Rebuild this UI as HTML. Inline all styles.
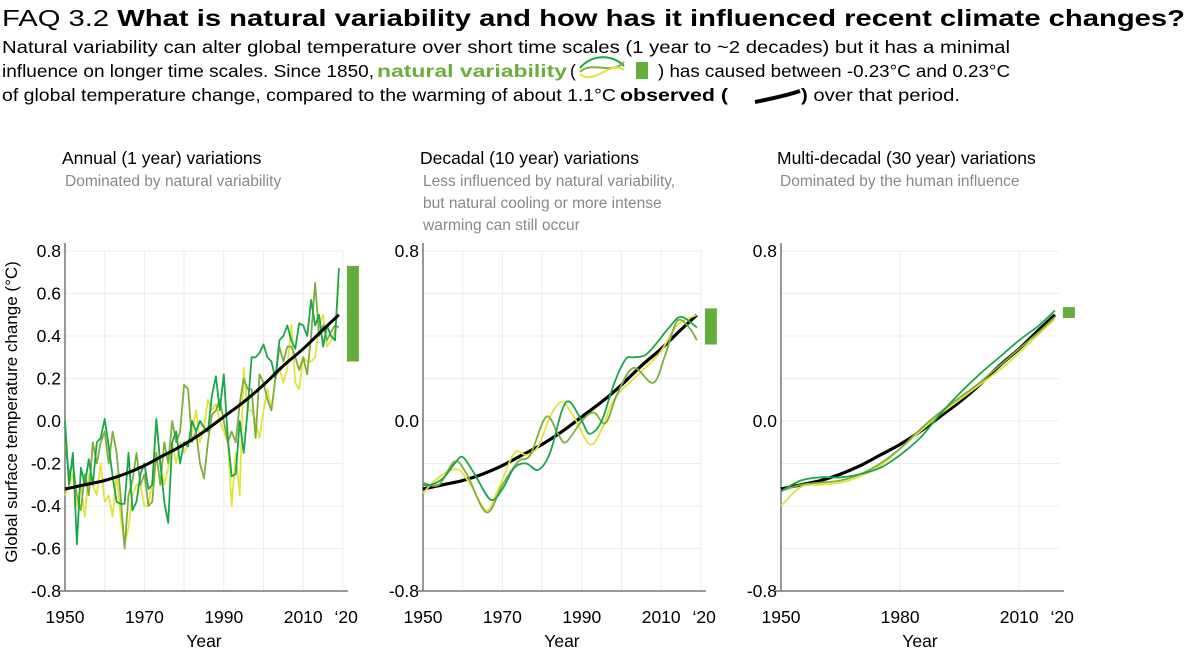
<!DOCTYPE html>
<html><head><meta charset="utf-8"><style>
html,body{margin:0;padding:0;background:#fff;}
svg{display:block;font-family:"Liberation Sans",Arial,sans-serif;}
</style></head><body>
<svg id="c" width="1200" height="655" viewBox="0 0 1200 655">
<g>
<text x="2" y="26" font-size="23" textLength="1183" lengthAdjust="spacingAndGlyphs">FAQ 3.2 <tspan font-weight="bold">What is natural variability and how has it influenced recent climate changes?</tspan></text>
<text x="2" y="53" font-size="17.5" textLength="1008" lengthAdjust="spacingAndGlyphs">Natural variability can alter global temperature over short time scales (1 year to ~2 decades) but it has a minimal</text>
<text x="2" y="77" font-size="17.5" textLength="372" lengthAdjust="spacingAndGlyphs">influence on longer time scales. Since 1850,</text>
<text x="377" y="77" font-size="17.5" font-weight="bold" fill="#6aaf3d" textLength="190" lengthAdjust="spacingAndGlyphs">natural variability</text>
<text x="570" y="77" font-size="17.5">(</text>
<g fill="none" stroke-width="2">
<path d="M580 68 C592 54,612 54,624 66" stroke="#1aa64a"/>
<path d="M580 72 C592 60,612 76,624 62" stroke="#7fae3a"/>
<path d="M580 74 C594 86,610 60,624 70" stroke="#e2e43c"/>
</g>
<rect x="636" y="62" width="12" height="17" fill="#64ad3c"/>
<text x="658" y="77" font-size="17.5" textLength="352" lengthAdjust="spacingAndGlyphs">) has caused between -0.23°C and 0.23°C</text>
<text x="2" y="101" font-size="17.5" textLength="614" lengthAdjust="spacingAndGlyphs">of global temperature change, compared to the warming of about 1.1°C</text>
<text x="620" y="101" font-size="17.5" font-weight="bold" textLength="108" lengthAdjust="spacingAndGlyphs">observed (</text>
<path d="M755 102 C770 99,785 96,800 91" stroke="#000" stroke-width="4" fill="none"/>
<text x="801" y="101" font-size="17.5" textLength="159" lengthAdjust="spacingAndGlyphs"><tspan font-weight="bold">)</tspan> over that period.</text>
</g>
<g id="charts"></g>
</svg>
<script>
// ---------- data ----------
const years = [];
for (let y = 1950; y <= 2019; y++) years.push(y);
const annualGreen = [0.0,-0.3,-0.15,-0.58,-0.22,-0.3,-0.18,-0.3,-0.1,-0.08,
0.01,-0.12,-0.26,-0.38,-0.39,-0.39,-0.15,-0.42,-0.38,-0.25,
-0.2,-0.32,-0.3,0.01,-0.2,-0.38,-0.48,-0.1,-0.05,-0.2,
-0.1,-0.12,0.0,-0.05,0.0,-0.03,-0.05,0.12,0.21,0.05,
0.22,-0.08,-0.26,-0.25,0.0,-0.15,0.05,0.3,0.3,0.32,
0.36,0.3,0.28,0.2,0.38,0.4,0.45,0.38,0.34,0.46,
0.45,0.4,0.57,0.45,0.5,0.35,0.45,0.4,0.38,0.72];
const annualOlive = [-0.1,-0.25,-0.2,-0.35,-0.42,-0.25,-0.35,-0.1,-0.2,-0.1,
-0.05,-0.2,-0.05,-0.15,-0.35,-0.6,-0.35,-0.28,-0.15,-0.3,
-0.25,-0.4,-0.38,-0.15,-0.3,-0.1,-0.2,0.0,-0.1,-0.05,
0.17,0.15,-0.1,-0.05,-0.2,-0.27,-0.1,0.03,0.05,0.1,
0.0,-0.1,-0.05,-0.1,0.08,0.2,0.15,0.15,-0.08,0.22,
0.18,0.1,0.05,0.2,0.35,0.28,0.35,0.35,0.3,0.24,
0.3,0.22,0.4,0.65,0.4,0.45,0.38,0.42,0.45,0.44];
const annualYellow = [-0.35,-0.3,-0.25,-0.4,-0.3,-0.45,-0.25,-0.3,-0.35,-0.2,
-0.38,-0.35,-0.45,-0.25,-0.45,-0.58,-0.5,-0.35,-0.3,-0.3,
-0.4,-0.4,-0.28,0.0,-0.2,-0.3,-0.22,-0.1,-0.2,-0.1,
-0.15,-0.1,-0.05,0.05,-0.1,-0.03,0.1,0.05,0.08,0.0,
-0.05,-0.1,-0.4,-0.15,-0.35,0.25,0.05,0.05,0.0,-0.08,
0.05,0.15,0.05,0.2,0.25,0.18,0.25,0.45,0.18,0.15,
0.3,0.28,0.28,0.3,0.45,0.5,0.35,0.38,0.42,0.65];
const obsYears = [1950,1955,1960,1965,1970,1975,1980,1985,1990,1995,2000,2005,2010,2015,2019];
const observed = [-0.32,-0.30,-0.28,-0.25,-0.21,-0.16,-0.11,-0.05,0.02,0.09,0.17,0.26,0.34,0.43,0.50];
const decGreenYears = [1950,1952,1955,1958,1960,1963,1967,1970,1973,1976,1979,1982,1985,1987,1990,1992,1995,1998,2001,2003,2006,2009,2012,2015,2019];
const decGreen = [-0.3,-0.3,-0.27,-0.2,-0.17,-0.25,-0.37,-0.32,-0.22,-0.2,-0.23,-0.15,0.05,0.09,0.0,-0.06,0.0,0.17,0.29,0.3,0.31,0.37,0.44,0.49,0.44];
const decOliveYears = [1950,1954,1958,1961,1966,1970,1974,1977,1981,1984,1986,1990,1993,1996,1999,2003,2008,2011,2014,2017,2019];
const decOlive = [-0.29,-0.3,-0.19,-0.25,-0.43,-0.3,-0.19,-0.16,0.02,-0.06,-0.1,0.0,0.04,-0.01,0.13,0.25,0.18,0.31,0.47,0.44,0.38];
const decYellowYears = [1950,1953,1956,1959,1962,1966,1969,1973,1976,1979,1982,1985,1988,1992,1995,1998,2002,2006,2010,2014,2019];
const decYellow = [-0.34,-0.28,-0.24,-0.23,-0.3,-0.42,-0.32,-0.15,-0.16,-0.12,0.02,0.09,0.02,-0.11,-0.04,0.1,0.18,0.25,0.33,0.45,0.5];
const mdYears = [1950,1955,1960,1965,1970,1975,1980,1985,1990,1995,2000,2005,2010,2015,2019];
const mdGreen = [-0.33,-0.28,-0.265,-0.265,-0.25,-0.22,-0.16,-0.08,0.03,0.13,0.22,0.30,0.38,0.45,0.52];
const mdOlive = [-0.33,-0.3,-0.29,-0.28,-0.25,-0.2,-0.13,-0.04,0.04,0.11,0.18,0.26,0.34,0.42,0.49];
const mdYellow = [-0.4,-0.31,-0.3,-0.29,-0.26,-0.21,-0.13,-0.05,0.03,0.1,0.17,0.24,0.32,0.41,0.48];
const rangeAnnual = [0.28,0.73];
const rangeDecadal = [0.36,0.53];
const rangeMulti = [0.485,0.536];
const yTicksAnnual = ["0.8","0.6","0.4","0.2","0.0","-0.2","-0.4","-0.6","-0.8"];
const yTicksSparse = ["0.8","0.0","-0.8"];

// ---------- drawing ----------
const NS = "http://www.w3.org/2000/svg";
const root = document.getElementById('charts');
function el(tag, attrs, parent, text){
  const e = document.createElementNS(NS, tag);
  for (const k in attrs) e.setAttribute(k, attrs[k]);
  if (text !== undefined) e.textContent = text;
  (parent||root).appendChild(e);
  return e;
}
const COL = {green:"#1aa64a", olive:"#7fae3a", yellow:"#e2e43c"};
const Y0 = 251, Y1 = 591;
function makePanel(name, x0, opts){
  const g = el('g', {});
  
  
  const xs = yr => x0 + (yr - 1950) * 3.97;
  const ys = v => Y0 + (0.8 - v) / 1.6 * (Y1 - Y0);
  for (let yr = 1950; yr <= 2020; yr += opts.gridStep) {
    const gl = el('line', {x1:xs(yr), x2:xs(yr), y1:Y0, y2:Y1, stroke:"#ececec", "stroke-width":1}, g);
    
    
  }
  for (let v = -0.8; v <= 0.81; v += 0.2) {
    const gl = el('line', {x1:xs(1950), x2:xs(2020), y1:ys(v), y2:ys(v), stroke:"#ececec", "stroke-width":1}, g);
    
    
  }
  const ya = el('line', {x1:x0, x2:x0, y1:Y0-8, y2:Y1, stroke:"#777", "stroke-width":1.5}, g);
  
  
  const xa = el('line', {x1:x0-6, x2:xs(2020)+5, y1:Y1, y2:Y1, stroke:"#777", "stroke-width":1.5}, g);
  
  
  opts.yTicks.forEach(t => {
    const tx = el('text', {x:x0-4, y:ys(parseFloat(t))+6, "font-size":17.5, "text-anchor":"end"}, g, t);
    
    
  });
  opts.xTicks.forEach(t => {
    const yr = t === "‘20" ? 2020 : parseInt(t);
    let anchor = "middle", dx = 0;
    if (t === "‘20") { anchor = "end"; dx = 15; }
    const tx = el('text', {x:xs(yr)+dx, y:623, "font-size":17.5, "text-anchor":anchor}, g, t);
    
    
  });
  const xt = el('text', {x:xs(1985), y:647, "font-size":17.5, "text-anchor":"middle"}, g, "Year");
  
  
  const tt = el('text', {x:opts.titleX, y:164, "font-size":17.5}, g, opts.title);
  
  
  opts.sub.forEach((s, i) => {
    const st = el('text', {x:opts.titleX+3, y:186+i*22, "font-size":15.5, fill:"#888"}, g, s);
    
    
  });
  const rb = el('rect', {x:xs(2020)+4, y:ys(opts.range[1]), width:12, height:ys(opts.range[0])-ys(opts.range[1]), fill:"#64ad3c"}, g);
  
  
  return {g, xs, ys};
}
function linePath(xsArr, vals, xs, ys){
  return vals.map((v,i)=>(i?"L":"M")+xs(xsArr[i]).toFixed(1)+" "+ys(v).toFixed(1)).join(" ");
}
function smoothPath(xsArr, vals, xs, ys){
  const p = vals.map((v,i)=>[xs(xsArr[i]), ys(v)]);
  let d = "M"+p[0][0].toFixed(1)+" "+p[0][1].toFixed(1);
  for (let i=0;i<p.length-1;i++){
    const p0=p[Math.max(0,i-1)], p1=p[i], p2=p[i+1], p3=p[Math.min(p.length-1,i+2)];
    const c1=[p1[0]+(p2[0]-p0[0])/6, p1[1]+(p2[1]-p0[1])/6];
    const c2=[p2[0]-(p3[0]-p1[0])/6, p2[1]-(p3[1]-p1[1])/6];
    d+=" C"+c1.map(n=>n.toFixed(1)).join(" ")+" "+c2.map(n=>n.toFixed(1)).join(" ")+" "+p2[0].toFixed(1)+" "+p2[1].toFixed(1);
  }
  return d;
}
function series(g, d, color, w, name){
  const p = el('path', {d, fill:"none", stroke:color, "stroke-width":w, "stroke-linejoin":"round"}, g);
  
  
}

let P = makePanel('annual-panel', 65, {gridStep:10, yTicks:yTicksAnnual, xTicks:["1950","1970","1990","2010","‘20"],
  title:"Annual (1 year) variations", titleX:62, sub:["Dominated by natural variability"], range:rangeAnnual});
series(P.g, linePath(years, annualYellow, P.xs, P.ys), COL.yellow, 1.8, 'annual-series-yellow');
series(P.g, linePath(years, annualOlive, P.xs, P.ys), COL.olive, 1.8, 'annual-series-olive');
series(P.g, linePath(years, annualGreen, P.xs, P.ys), COL.green, 1.8, 'annual-series-green');
series(P.g, smoothPath(obsYears, observed, P.xs, P.ys), "#000", 3, 'observed-line');

P = makePanel('decadal-panel', 423, {gridStep:10, yTicks:yTicksSparse, xTicks:["1950","1970","1990","2010","‘20"],
  title:"Decadal (10 year) variations", titleX:420,
  sub:["Less influenced by natural variability,","but natural cooling or more intense","warming can still occur"], range:rangeDecadal});
series(P.g, smoothPath(obsYears, observed, P.xs, P.ys), "#000", 3.2, 'observed-line');
series(P.g, smoothPath(decYellowYears, decYellow, P.xs, P.ys), COL.yellow, 1.8, 'decadal-series-yellow');
series(P.g, smoothPath(decOliveYears, decOlive, P.xs, P.ys), COL.olive, 1.8, 'decadal-series-olive');
series(P.g, smoothPath(decGreenYears, decGreen, P.xs, P.ys), COL.green, 1.8, 'decadal-series-green');

P = makePanel('multidecadal-panel', 781, {gridStep:30, yTicks:yTicksSparse, xTicks:["1950","1980","2010","‘20"],
  title:"Multi-decadal (30 year) variations", titleX:777, sub:["Dominated by the human influence"], range:rangeMulti});
series(P.g, smoothPath(obsYears, observed, P.xs, P.ys), "#000", 3.2, 'observed-line');
series(P.g, smoothPath(mdYears, mdYellow, P.xs, P.ys), COL.yellow, 1.8, 'multidecadal-series-yellow');
series(P.g, smoothPath(mdYears, mdOlive, P.xs, P.ys), COL.olive, 1.8, 'multidecadal-series-olive');
series(P.g, smoothPath(mdYears, mdGreen, P.xs, P.ys), COL.green, 1.8, 'multidecadal-series-green');

const yt = el('text', {x:0, y:0, "font-size":17, "text-anchor":"middle", transform:"translate(17,412) rotate(-90)"}, root, "Global surface temperature change (°C)");


</script>
</body></html>
